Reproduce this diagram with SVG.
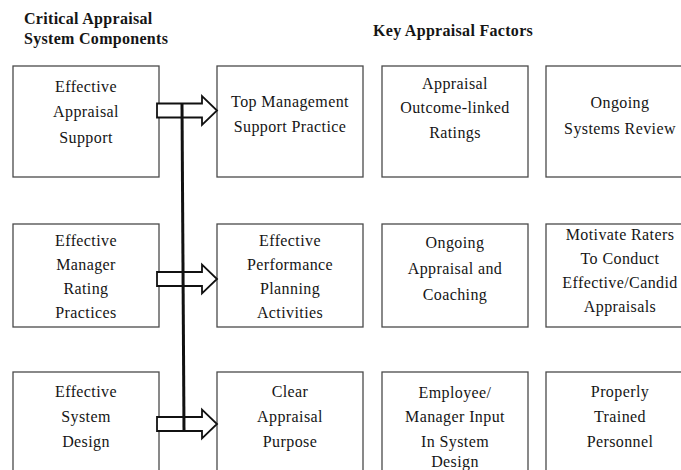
<svg xmlns="http://www.w3.org/2000/svg" width="681" height="470" viewBox="0 0 681 470">
  <style>
    .box { fill: #ffffff; stroke: #4a4a4a; stroke-width: 1.3; }
    .lbl { font-family: "Liberation Serif", "Times New Roman", serif; font-size: 16px; fill: #151515; text-anchor: middle; letter-spacing: 0.4px; }
    .head { font-family: "Liberation Serif", "Times New Roman", serif; font-size: 16px; font-weight: bold; fill: #151515; letter-spacing: 0.3px; }
    .arrow { fill: #ffffff; stroke: #111111; stroke-width: 1.8; stroke-linejoin: miter; }
    .spine { fill: none; stroke: #111111; stroke-width: 3; }
  </style>
  <defs>
    <!-- open block arrow, centred on y = 0 -->
    <path id="blockArrow" class="arrow" d="M157,-7 H202 V-14.5 L217,0 L202,14.5 V7 H157 Z"/>
  </defs>
  <rect width="681" height="470" fill="#ffffff"/>

  <!-- column headings -->
  <g id="heading-components">
    <text class="head" x="24" y="24">Critical Appraisal</text>
    <text class="head" x="24" y="44">System Components</text>
  </g>
  <g id="heading-factors">
    <text class="head" x="373" y="36">Key Appraisal Factors</text>
  </g>

  <!-- row 1 -->
  <g id="effective-appraisal-support">
    <rect class="box" x="13" y="66" width="146" height="111"/>
    <text class="lbl" x="86" y="92">Effective</text>
    <text class="lbl" x="86" y="117">Appraisal</text>
    <text class="lbl" x="86" y="143">Support</text>
  </g>
  <g id="top-management-support">
    <rect class="box" x="217" y="66" width="146" height="111"/>
    <text class="lbl" x="290" y="107">Top Management</text>
    <text class="lbl" x="290" y="132">Support Practice</text>
  </g>
  <g id="outcome-linked-ratings">
    <rect class="box" x="382" y="66" width="146" height="111"/>
    <text class="lbl" x="455" y="89">Appraisal</text>
    <text class="lbl" x="455" y="113">Outcome-linked</text>
    <text class="lbl" x="455" y="138">Ratings</text>
  </g>
  <g id="ongoing-systems-review">
    <rect class="box" x="546" y="66" width="146" height="111"/>
    <text class="lbl" x="620" y="108">Ongoing</text>
    <text class="lbl" x="620" y="134">Systems Review</text>
  </g>

  <!-- row 2 -->
  <g id="effective-manager-rating">
    <rect class="box" x="13" y="224" width="146" height="103"/>
    <text class="lbl" x="86" y="246">Effective</text>
    <text class="lbl" x="86" y="270">Manager</text>
    <text class="lbl" x="86" y="294">Rating</text>
    <text class="lbl" x="86" y="318">Practices</text>
  </g>
  <g id="performance-planning">
    <rect class="box" x="217" y="224" width="146" height="103"/>
    <text class="lbl" x="290" y="246">Effective</text>
    <text class="lbl" x="290" y="270">Performance</text>
    <text class="lbl" x="290" y="294">Planning</text>
    <text class="lbl" x="290" y="318">Activities</text>
  </g>
  <g id="ongoing-appraisal-coaching">
    <rect class="box" x="382" y="224" width="146" height="103"/>
    <text class="lbl" x="455" y="248">Ongoing</text>
    <text class="lbl" x="455" y="274">Appraisal and</text>
    <text class="lbl" x="455" y="300">Coaching</text>
  </g>
  <g id="motivate-raters">
    <rect class="box" x="546" y="224" width="146" height="103"/>
    <text class="lbl" x="620" y="240">Motivate Raters</text>
    <text class="lbl" x="620" y="264">To Conduct</text>
    <text class="lbl" x="620" y="288">Effective/Candid</text>
    <text class="lbl" x="620" y="312">Appraisals</text>
  </g>

  <!-- row 3 -->
  <g id="effective-system-design">
    <rect class="box" x="13" y="372" width="146" height="110"/>
    <text class="lbl" x="86" y="397">Effective</text>
    <text class="lbl" x="86" y="422">System</text>
    <text class="lbl" x="86" y="447">Design</text>
  </g>
  <g id="clear-appraisal-purpose">
    <rect class="box" x="217" y="372" width="146" height="110"/>
    <text class="lbl" x="290" y="397">Clear</text>
    <text class="lbl" x="290" y="422">Appraisal</text>
    <text class="lbl" x="290" y="447">Purpose</text>
  </g>
  <g id="employee-manager-input">
    <rect class="box" x="382" y="372" width="146" height="110"/>
    <text class="lbl" x="455" y="398">Employee/</text>
    <text class="lbl" x="455" y="422">Manager Input</text>
    <text class="lbl" x="455" y="447">In System</text>
    <text class="lbl" x="455" y="467">Design</text>
  </g>
  <g id="properly-trained-personnel">
    <rect class="box" x="546" y="372" width="146" height="110"/>
    <text class="lbl" x="620" y="397">Properly</text>
    <text class="lbl" x="620" y="422">Trained</text>
    <text class="lbl" x="620" y="447">Personnel</text>
  </g>

  <!-- connectors: block arrows joined by a vertical spine -->
  <g id="connectors">
    <use href="#blockArrow" transform="translate(0,110.5)"/>
    <use href="#blockArrow" transform="translate(0,279)"/>
    <use href="#blockArrow" transform="translate(0,424)"/>
    <line class="spine" x1="182" y1="104" x2="184" y2="431"/>
  </g>
</svg>
